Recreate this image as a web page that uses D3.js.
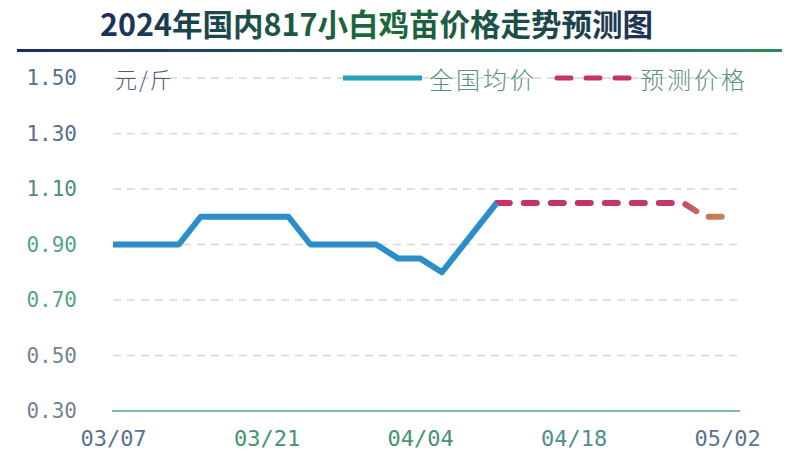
<!DOCTYPE html>
<html>
<head>
<meta charset="utf-8">
<script src="https://cdn.jsdelivr.net/npm/d3@7"></script>
<style>
  html, body { margin: 0; padding: 0; background: #fff; }
  svg { display: block; }
</style>
</head>
<body>
<svg id="chart" width="800" height="454"></svg>
<script>
// ── Data ──────────────────────────────────────────────────────────────────────
const TITLE          = '2024年国内817小白鸡苗价格走势预测图';
const UNIT_LABEL     = '元/斤';
const SERIES_NAMES   = ['全国均价', '预测价格'];
const actualDates    = ['03/07', '03/13', '03/15', '03/23', '03/25', '03/31', '04/02', '04/04', '04/06', '04/11'];
const actualValues   = [0.90, 0.90, 1.00, 1.00, 0.90, 0.90, 0.85, 0.85, 0.80, 1.05];
const forecastDates  = ['04/11', '04/28', '04/30', '05/02'];
const forecastValues = [1.05, 1.05, 1.00, 1.00];
const xTickLabels    = ['03/07', '03/21', '04/04', '04/18', '05/02'];
const yTickValues    = [0.30, 0.50, 0.70, 0.90, 1.10, 1.30, 1.50];
const X_DOMAIN       = ['03/07', '05/03'];

// ── Styles ────────────────────────────────────────────────────────────────────
const Y_LABEL_COLORS = { '1.50': '#55708f', '1.30': '#55708f', '1.10': '#4a9079', '0.90': '#55a585',
                         '0.70': '#55a585', '0.50': '#738591', '0.30': '#738591' };
const X_LABEL_COLORS = ['#5a7290', '#45936f', '#45936f', '#4f9088', '#5a7290'];
const MONO = '"DejaVu Sans Mono", "Liberation Mono", monospace';
const CJK  = '"Noto Sans CJK SC", "Noto Sans", sans-serif';

const parse = s => d3.timeParse('%Y/%m/%d')('2024/' + s);

const svg = d3.select('#chart');
const defs = svg.append('defs');

// ── Title ────────────────────────────────────────────────────────────────────
const titleGrad = defs.append('linearGradient').attr('id', 'titleGrad')
  .attr('x1', '0%').attr('x2', '100%');
titleGrad.append('stop').attr('offset', '0%').attr('stop-color', '#1b2f58');
titleGrad.append('stop').attr('offset', '50%').attr('stop-color', '#1d6a3a');
titleGrad.append('stop').attr('offset', '100%').attr('stop-color', '#1b3354');

const ruleGrad = defs.append('linearGradient').attr('id', 'ruleGrad')
  .attr('x1', '0%').attr('x2', '100%');
ruleGrad.append('stop').attr('offset', '0%').attr('stop-color', '#1c2d63');
ruleGrad.append('stop').attr('offset', '100%').attr('stop-color', '#2a8a5c');

svg.append('text')
  .attr('x', 100).attr('y', 36)
  .attr('font-family', CJK).attr('font-weight', 700).attr('font-size', 30.5)
  .attr('fill', 'url(#titleGrad)')
  .text(TITLE);

svg.append('rect')
  .attr('x', 17).attr('y', 49).attr('width', 765).attr('height', 3)
  .attr('fill', 'url(#ruleGrad)');

// ── Scales ───────────────────────────────────────────────────────────────────
const x = d3.scaleTime().domain(X_DOMAIN.map(parse)).range([113, 738]);
const y = d3.scaleLinear().domain([0.30, 1.50]).range([411, 78]);

// ── Grid ─────────────────────────────────────────────────────────────────────
svg.append('g').attr('class', 'grid')
  .selectAll('line')
  .data(yTickValues.filter(v => v > 0.30))
  .join('line')
  .attr('x1', 113).attr('x2', 740)
  .attr('y1', d => y(d)).attr('y2', d => y(d))
  .attr('stroke', '#d6d8da').attr('stroke-width', 1.3)
  .attr('stroke-dasharray', '8,6');

// ── Axes ─────────────────────────────────────────────────────────────────────
const yAxis = svg.append('g')
  .attr('transform', 'translate(77,0)')
  .call(d3.axisLeft(y).tickValues(yTickValues).tickFormat(d3.format('.2f')).tickSize(0).tickPadding(0));
yAxis.select('.domain').remove();
yAxis.selectAll('text')
  .attr('font-family', MONO).attr('font-size', 21)
  .attr('fill', d => Y_LABEL_COLORS[d3.format('.2f')(d)]);

const xAxis = svg.append('g')
  .attr('transform', `translate(0,${y(0.30)})`)
  .call(d3.axisBottom(x).tickValues(xTickLabels.map(parse)).tickFormat(d3.timeFormat('%m/%d'))
    .tickSize(0).tickPadding(19));
xAxis.select('.domain').remove();
xAxis.selectAll('text')
  .attr('font-family', MONO).attr('font-size', 22)
  .attr('fill', (d, i) => X_LABEL_COLORS[i]);

svg.append('line')
  .attr('x1', 112).attr('x2', 740)
  .attr('y1', y(0.30)).attr('y2', y(0.30))
  .attr('stroke', '#7cbfa6').attr('stroke-width', 2);

// ── Lines ────────────────────────────────────────────────────────────────────
const line = d3.line().x(d => x(d.date)).y(d => y(d.value));
const actual   = actualDates.map((d, i) => ({ date: parse(d), value: actualValues[i] }));
const forecast = forecastDates.map((d, i) => ({ date: parse(d), value: forecastValues[i] }));

const fcGrad = defs.append('linearGradient').attr('id', 'fcGrad')
  .attr('gradientUnits', 'userSpaceOnUse')
  .attr('x1', x(forecast[0].date)).attr('x2', x(forecast[forecast.length - 1].date))
  .attr('y1', 0).attr('y2', 0);
fcGrad.append('stop').attr('offset', '0%').attr('stop-color', '#c8306a');
fcGrad.append('stop').attr('offset', '78%').attr('stop-color', '#c43a62');
fcGrad.append('stop').attr('offset', '88%').attr('stop-color', '#c86a5c');
fcGrad.append('stop').attr('offset', '100%').attr('stop-color', '#c28a5a');

svg.append('path')
  .datum(forecast)
  .attr('d', line)
  .attr('fill', 'none')
  .attr('stroke', 'url(#fcGrad)').attr('stroke-width', 6)
  .attr('stroke-linecap', 'round').attr('stroke-linejoin', 'round')
  .attr('stroke-dasharray', '13,14');

svg.append('path')
  .datum(actual)
  .attr('d', line)
  .attr('fill', 'none')
  .attr('stroke', '#2b8ec8').attr('stroke-width', 6)
  .attr('stroke-linejoin', 'round');

// ── Unit & legend ────────────────────────────────────────────────────────────
svg.append('text')
  .attr('x', 115).attr('y', 88)
  .attr('font-family', CJK).attr('font-weight', 300).attr('font-size', 22)
  .attr('letter-spacing', 2)
  .attr('fill', '#4d5d7a')
  .text(UNIT_LABEL);

const legend = svg.append('g').attr('class', 'legend');
legend.append('line')
  .attr('x1', 343).attr('x2', 422).attr('y1', 78).attr('y2', 78)
  .attr('stroke', '#27a0bb').attr('stroke-width', 5);
legend.append('text')
  .attr('x', 429).attr('y', 89)
  .attr('font-family', CJK).attr('font-weight', 300).attr('font-size', 24)
  .attr('letter-spacing', 3)
  .attr('fill', '#5c8e82')
  .text(SERIES_NAMES[0]);
legend.append('line')
  .attr('x1', 557).attr('x2', 630).attr('y1', 78).attr('y2', 78)
  .attr('stroke', '#c8336a').attr('stroke-width', 5)
  .attr('stroke-linecap', 'round')
  .attr('stroke-dasharray', '14,15');
legend.append('text')
  .attr('x', 640).attr('y', 89)
  .attr('font-family', CJK).attr('font-weight', 300).attr('font-size', 24)
  .attr('letter-spacing', 3)
  .attr('fill', '#5c8e82')
  .text(SERIES_NAMES[1]);
</script>
</body>
</html>
